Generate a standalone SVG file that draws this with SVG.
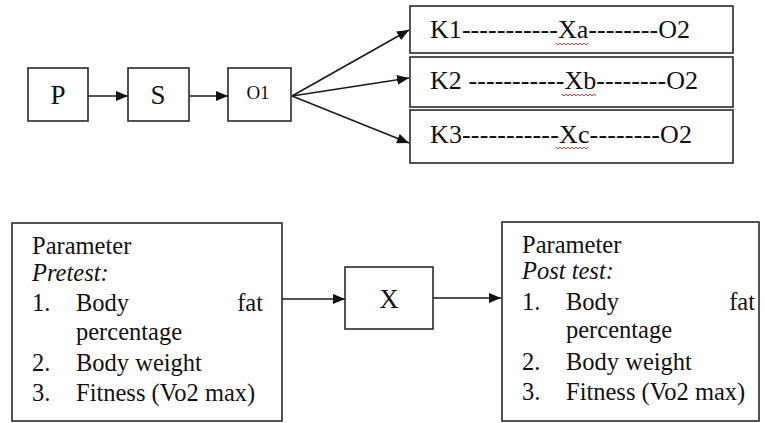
<svg xmlns="http://www.w3.org/2000/svg" width="765" height="423" viewBox="0 0 765 423">
<style>
.box{fill:#fff;stroke:#2a2a2a;stroke-width:1.6}
text{font-family:'Liberation Serif','DejaVu Serif',serif;fill:#111}
.b{font-size:24.5px}
.c{stroke:#1a1a1a;stroke-width:1.6;fill:none}
.sq{stroke:#e23a3a;stroke-width:1;fill:none}
</style>
<defs>
<marker id="ah" viewBox="0 0 12 10" refX="12" refY="5" markerWidth="12" markerHeight="10" markerUnits="userSpaceOnUse" orient="auto">
<path d="M0,0 L12,5 L0,10 z" fill="#111"/>
</marker>
</defs>
<rect width="765" height="423" fill="#fff"/>

<g id="connectors">
<line class="c" x1="88" y1="96" x2="128" y2="96" marker-end="url(#ah)"/>
<line class="c" x1="189" y1="96" x2="228" y2="96" marker-end="url(#ah)"/>
<line class="c" x1="292" y1="96" x2="409" y2="30" marker-end="url(#ah)"/>
<line class="c" x1="292" y1="96" x2="409" y2="78" marker-end="url(#ah)"/>
<line class="c" x1="292" y1="96" x2="409" y2="143" marker-end="url(#ah)"/>
<line class="c" x1="282" y1="299" x2="345" y2="299" marker-end="url(#ah)"/>
<line x1="433" y1="298" x2="501" y2="298" stroke="#555" stroke-width="2.2" marker-end="url(#ah)"/>
</g>

<g id="P">
<rect class="box" x="28" y="68" width="60" height="53"/>
<text x="58" y="104" font-size="27" text-anchor="middle">P</text>
</g>
<g id="S">
<rect class="box" x="128" y="68" width="61" height="53"/>
<text x="158" y="104" font-size="27" text-anchor="middle">S</text>
</g>
<g id="O1">
<rect class="box" x="228" y="68" width="63" height="53"/>
<text x="258" y="99" font-size="19" text-anchor="middle">O1</text>
</g>

<g id="K1">
<rect class="box" x="410" y="6" width="323" height="47"/>
<text x="430" y="38" font-size="26" textLength="260" lengthAdjust="spacing">K1-----------Xa--------O2</text>
<polyline class="sq" points="556,43 558,45 560,43 562,45 564,43 566,45 568,43 570,45 572,43 574,45 576,43 578,45 580,43 582,45 584,43 586,45 588,43"/>
</g>
<g id="K2">
<rect class="box" x="410" y="57" width="323" height="50"/>
<text x="430" y="89" font-size="26" textLength="268" lengthAdjust="spacing">K2 -----------Xb--------O2</text>
<polyline class="sq" points="562,94 564,96 566,94 568,96 570,94 572,96 574,94 576,96 578,94 580,96 582,94 584,96 586,94 588,96 590,94 592,96 594,94 596,96"/>
</g>
<g id="K3">
<rect class="box" x="410" y="110" width="323" height="53"/>
<text x="430" y="143" font-size="26" textLength="262" lengthAdjust="spacing">K3-----------Xc--------O2</text>
<polyline class="sq" points="556,147 558,149 560,147 562,149 564,147 566,149 568,147 570,149 572,147 574,149 576,147 578,149 580,147 582,149 584,147 586,149 588,147"/>
</g>

<g id="pretest">
<rect class="box" x="12" y="223" width="270" height="198"/>
<text class="b" x="32" y="254">Parameter</text>
<text class="b" x="32" y="281" font-style="italic">Pretest:</text>
<text class="b" x="32" y="311">1.</text>
<text class="b" x="76" y="311">Body</text>
<text class="b" x="263" y="311" text-anchor="end">fat</text>
<text class="b" x="76" y="340">percentage</text>
<text class="b" x="32" y="371">2.</text>
<text class="b" x="76" y="371">Body weight</text>
<text class="b" x="32" y="401">3.</text>
<text class="b" x="76" y="401">Fitness (Vo2 max)</text>
</g>

<g id="X">
<rect class="box" x="345" y="267" width="88" height="62"/>
<text x="389" y="308" font-size="27" text-anchor="middle">X</text>
</g>

<g id="posttest">
<rect class="box" x="502" y="222" width="257" height="199"/>
<text class="b" x="522" y="253">Parameter</text>
<text class="b" x="522" y="279" font-style="italic">Post test:</text>
<text class="b" x="522" y="310">1.</text>
<text class="b" x="566" y="310">Body</text>
<text class="b" x="755" y="310" text-anchor="end">fat</text>
<text class="b" x="566" y="338">percentage</text>
<text class="b" x="522" y="370">2.</text>
<text class="b" x="566" y="370">Body weight</text>
<text class="b" x="522" y="400">3.</text>
<text class="b" x="566" y="400">Fitness (Vo2 max)</text>
</g>
</svg>
